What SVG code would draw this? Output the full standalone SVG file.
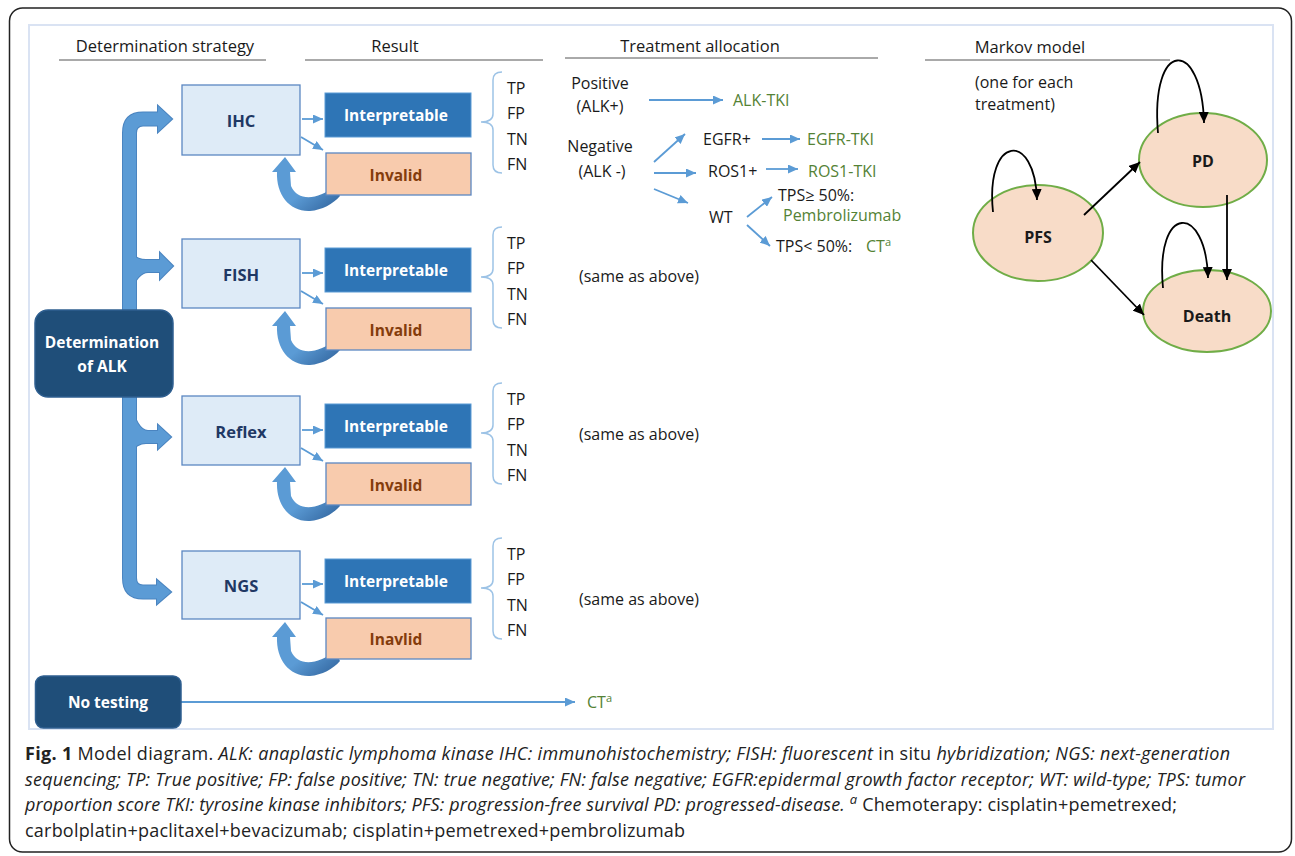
<svg xmlns="http://www.w3.org/2000/svg" width="1295" height="856" viewBox="0 0 1295 856">
<style>
text{font-family:"Open Sans","Liberation Sans",sans-serif;fill:#1a1a1a}
.hd{font-size:16.5px}
.t{font-size:16px}
.g{fill:#548235}
.mbox{fill:#deebf7;stroke:#5b87c2;stroke-width:1.3}
.mtx{font-size:16.5px;font-weight:700;fill:#1f3864;text-anchor:middle}
.ibox{fill:#2e75b6;stroke:#5b9bd5;stroke-width:1}
.itx{font-size:15.5px;font-weight:700;fill:#fff;text-anchor:middle}
.vbox{fill:#f8cbad;stroke:#5b87c2;stroke-width:1.3}
.vtx{font-size:15.5px;font-weight:700;fill:#843c0c;text-anchor:middle}
.dbox{fill:#1f4e79;stroke:#2f5f90;stroke-width:1.5}
.dtx{font-size:15.5px;font-weight:700;fill:#fff;text-anchor:middle}
.brace{fill:none;stroke:#9dc3e6;stroke-width:1.5}
.ba{stroke:#5b9bd5;stroke-width:1.8;fill:none;marker-end:url(#mb)}
.ka{stroke:#000;stroke-width:1.8;fill:none;marker-end:url(#mk)}
.ell{fill:#f8dcc8;stroke:#70ad47;stroke-width:2}
.etx{font-size:16px;font-weight:700;text-anchor:middle}
.line{stroke:#555;stroke-width:1}
.cap{font-size:18px;fill:#222}
.it{font-style:italic}
</style>
<defs>
<marker id="mb" markerUnits="userSpaceOnUse" markerWidth="10" markerHeight="9" refX="10" refY="4.5" orient="auto"><path d="M0,0 L10,4.5 L0,9 z" fill="#5b9bd5"/></marker>
<marker id="mk" markerUnits="userSpaceOnUse" markerWidth="11" markerHeight="10" refX="11" refY="5" orient="auto"><path d="M0,0 L11,5 L0,10 z" fill="#000"/></marker>
<linearGradient id="ug" x1="0" y1="0" x2="1" y2="1"><stop offset="0" stop-color="#5b9bd5"/><stop offset="0.55" stop-color="#5b9bd5"/><stop offset="1" stop-color="#2e6099"/></linearGradient>
<path id="uarr" d="M 335 186 C 318 200, 298 202, 291 186 L 290 172 L 296 172 L 285 157 L 272 172 L 277 172 C 276 195, 290 212, 310 211 C 322 210, 333 204, 340 196 Z"/>
<path id="bar" d="M 123 578 L 123 133 Q 123 112.5 143 112.5 L 158 112.5 L 158 106 L 172 119 L 158 132 L 158 125.5 L 143 125.5 Q 136 125.5 136 133 L 136 578 Q 136 585.5 143 585.5 L 157 585.5 L 157 580 L 171 592 L 157 604 L 157 598.5 L 143 598.5 Q 123 598.5 123 578 Z"/>
<path id="br1" d="M 130 252 Q 136 260 146 260 L 160 260 L 160 253 L 173 266 L 160 279 L 160 272 L 148 272 Q 138 272 130 292 Z"/>
<path id="br2" d="M 130 402 Q 137 431 148 431 L 158 431 L 158 425 L 171 437 L 158 449 L 158 443 L 146 443 Q 137 443 130 452 Z"/>
<g id="rowtpl">
<rect class="ibox" x="325" y="93" width="146" height="44"/>
<text class="itx" x="396" y="121">Interpretable</text>
<path class="brace" d="M 502 72 Q 493 72 493 80 L 493 114 Q 493 122 481 122 Q 493 122 493 130 L 493 165 Q 493 173 502 173"/>
<text class="t" x="507" y="94">TP</text>
<text class="t" x="507" y="119">FP</text>
<text class="t" x="507" y="145">TN</text>
<text class="t" x="507" y="170">FN</text>
</g>
</defs>

<rect x="9.5" y="8" width="1282" height="844" rx="13" fill="#fff" stroke="#222" stroke-width="1.5"/>
<rect x="29" y="25" width="1244" height="704" fill="none" stroke="#dae3f3" stroke-width="2"/>

<g id="headers">
<text class="hd" x="165" y="52" text-anchor="middle">Determination strategy</text>
<line class="line" x1="59" y1="60" x2="266" y2="60"/>
<text class="hd" x="395" y="52" text-anchor="middle">Result</text>
<line class="line" x1="305" y1="60" x2="543" y2="60"/>
<text class="hd" x="700" y="52" text-anchor="middle">Treatment allocation</text>
<line class="line" x1="565" y1="58" x2="878" y2="58"/>
<text class="hd" x="1030" y="53" text-anchor="middle">Markov model</text>
<line class="line" x1="925" y1="60" x2="1170" y2="60"/>
</g>

<g id="connectors">
<g id="big-arrows">
<use href="#br1" fill="none" stroke="#4a84c0" stroke-width="2"/>
<use href="#br2" fill="none" stroke="#4a84c0" stroke-width="2"/>
<use href="#bar" fill="none" stroke="#4a84c0" stroke-width="2"/>
<use href="#br1" fill="#5b9bd5"/>
<use href="#br2" fill="#5b9bd5"/>
<use href="#bar" fill="#5b9bd5"/>
</g>
<g id="retry-arrows" fill="url(#ug)">
<use href="#uarr"/>
<use href="#uarr" transform="translate(0,154)"/>
<use href="#uarr" transform="translate(0,310)"/>
<use href="#uarr" transform="translate(0,465)"/>
</g>
<g id="result-arrows">
<line class="ba" x1="302" y1="119" x2="323" y2="119"/>
<line class="ba" x1="301" y1="137" x2="323" y2="150"/>
<line class="ba" x1="302" y1="273" x2="323" y2="273"/>
<line class="ba" x1="301" y1="291" x2="323" y2="304"/>
<line class="ba" x1="302" y1="430" x2="323" y2="430"/>
<line class="ba" x1="301" y1="448" x2="323" y2="461"/>
<line class="ba" x1="302" y1="584" x2="323" y2="584"/>
<line class="ba" x1="301" y1="602" x2="323" y2="615"/>
</g>
<g id="treatment-arrows">
<line class="ba" x1="649" y1="100" x2="723" y2="100"/>
<line class="ba" x1="654" y1="162" x2="685" y2="134"/>
<line class="ba" x1="762" y1="139" x2="800" y2="139"/>
<line class="ba" x1="654" y1="173" x2="696" y2="173"/>
<line class="ba" x1="766" y1="169" x2="798" y2="169"/>
<line class="ba" x1="654" y1="189" x2="688" y2="203"/>
<line class="ba" x1="747" y1="217" x2="772" y2="197"/>
<line class="ba" x1="747" y1="225" x2="770" y2="246"/>
<line class="ba" x1="181" y1="702" x2="575" y2="702"/>
</g>
</g>

<g id="determination">
<rect class="dbox" x="35" y="310" width="138" height="87" rx="13"/>
<text class="dtx" x="102" y="348">Determination</text>
<text class="dtx" x="102" y="372">of ALK</text>
</g>
<g id="notesting">
<rect class="dbox" x="35.5" y="676" width="145.5" height="52" rx="8"/>
<text class="dtx" x="108" y="708">No testing</text>
</g>

<g id="ihc">
<rect class="mbox" x="182" y="85" width="118" height="70"/>
<text class="mtx" x="241" y="127">IHC</text>
</g>
<g id="ihc-results">
<use href="#rowtpl"/>
<rect class="vbox" x="326" y="153" width="145" height="42"/>
<text class="vtx" x="396" y="181">Invalid</text>
</g>

<g id="fish">
<rect class="mbox" x="182" y="239" width="118" height="69"/>
<text class="mtx" x="241" y="281">FISH</text>
</g>
<g id="fish-results">
<use href="#rowtpl" transform="translate(0,155)"/>
<rect class="vbox" x="326" y="308" width="145" height="42"/>
<text class="vtx" x="396" y="336">Invalid</text>
</g>

<g id="reflex">
<rect class="mbox" x="182" y="396" width="118" height="69"/>
<text class="mtx" x="241" y="438">Reflex</text>
</g>
<g id="reflex-results">
<use href="#rowtpl" transform="translate(0,311)"/>
<rect class="vbox" x="326" y="463" width="145" height="42"/>
<text class="vtx" x="396" y="491">Invalid</text>
</g>

<g id="ngs">
<rect class="mbox" x="182" y="551" width="118" height="68"/>
<text class="mtx" x="241" y="592">NGS</text>
</g>
<g id="ngs-results">
<use href="#rowtpl" transform="translate(0,466)"/>
<rect class="vbox" x="326" y="618" width="145" height="41"/>
<text class="vtx" x="396" y="645">Inavlid</text>
</g>

<g id="treatment">
<text class="t" x="600" y="89" text-anchor="middle">Positive</text>
<text class="t" x="600" y="112" text-anchor="middle">(ALK+)</text>
<text class="t g" x="733" y="106">ALK-TKI</text>
<text class="t" x="600" y="152" text-anchor="middle">Negative</text>
<text class="t" x="602" y="177" text-anchor="middle">(ALK -)</text>
<text class="t" x="703" y="145">EGFR+</text>
<text class="t g" x="807" y="145">EGFR-TKI</text>
<text class="t" x="708" y="177">ROS1+</text>
<text class="t g" x="808" y="177">ROS1-TKI</text>
<text class="t" x="709" y="223">WT</text>
<text class="t" x="778" y="201" font-size="15.5">TPS≥ 50%:</text>
<text class="t g" x="783" y="221" font-size="15.5">Pembrolizumab</text>
<text class="t" x="776" y="252">TPS&lt; 50%:</text>
<text class="t g" x="866" y="252">CT<tspan font-size="11" dy="-6">a</tspan></text>
<text class="t" x="579" y="282">(same as above)</text>
<text class="t" x="579" y="440">(same as above)</text>
<text class="t" x="579" y="605">(same as above)</text>
<text class="t g" x="587" y="708">CT<tspan font-size="11" dy="-6">a</tspan></text>
</g>

<g id="markov-note">
<text class="t" x="975" y="88">(one for each</text>
<text class="t" x="975" y="110">treatment)</text>
</g>
<g id="pfs">
<ellipse class="ell" cx="1038" cy="233" rx="65" ry="48"/>
<text class="etx" x="1038" y="243">PFS</text>
</g>
<g id="pd">
<ellipse class="ell" cx="1203" cy="160" rx="64" ry="47"/>
<text class="etx" x="1203" y="167">PD</text>
</g>
<g id="death">
<ellipse class="ell" cx="1207" cy="311" rx="64" ry="41"/>
<text class="etx" x="1207" y="322">Death</text>
</g>
<g id="markov-connectors">
<path class="ka" d="M 993 212 C 985 135, 1035 130, 1037 200"/>
<path class="ka" d="M 1158 133 C 1150 38, 1202 38, 1204 123"/>
<path class="ka" d="M 1163 288 C 1155 203, 1206 203, 1208 278"/>
<line class="ka" x1="1084" y1="215" x2="1140" y2="162"/>
<line class="ka" x1="1091" y1="260" x2="1144" y2="315"/>
<line class="ka" x1="1227" y1="195" x2="1227" y2="280"/>
</g>

<g id="caption">
<text class="cap" x="25" y="760" textLength="1205"><tspan font-weight="700">Fig. 1</tspan> Model diagram. <tspan class="it">ALK: anaplastic lymphoma kinase IHC: immunohistochemistry; FISH: fluorescent</tspan> in situ <tspan class="it">hybridization; NGS: next-generation</tspan></text>
<text class="cap it" x="25" y="786" textLength="1220">sequencing; TP: True positive; FP: false positive; TN: true negative; FN: false negative; EGFR:epidermal growth factor receptor; WT: wild-type; TPS: tumor</text>
<text class="cap" x="25" y="811" textLength="1152"><tspan class="it">proportion score TKI: tyrosine kinase inhibitors; PFS: progression-free survival PD: progressed-disease. </tspan><tspan class="it" font-size="13" dy="-7">a</tspan><tspan dy="7"> Chemoterapy: cisplatin+pemetrexed;</tspan></text>
<text class="cap" x="25" y="837" textLength="660">carbolplatin+paclitaxel+bevacizumab; cisplatin+pemetrexed+pembrolizumab</text>
</g>
</svg>
